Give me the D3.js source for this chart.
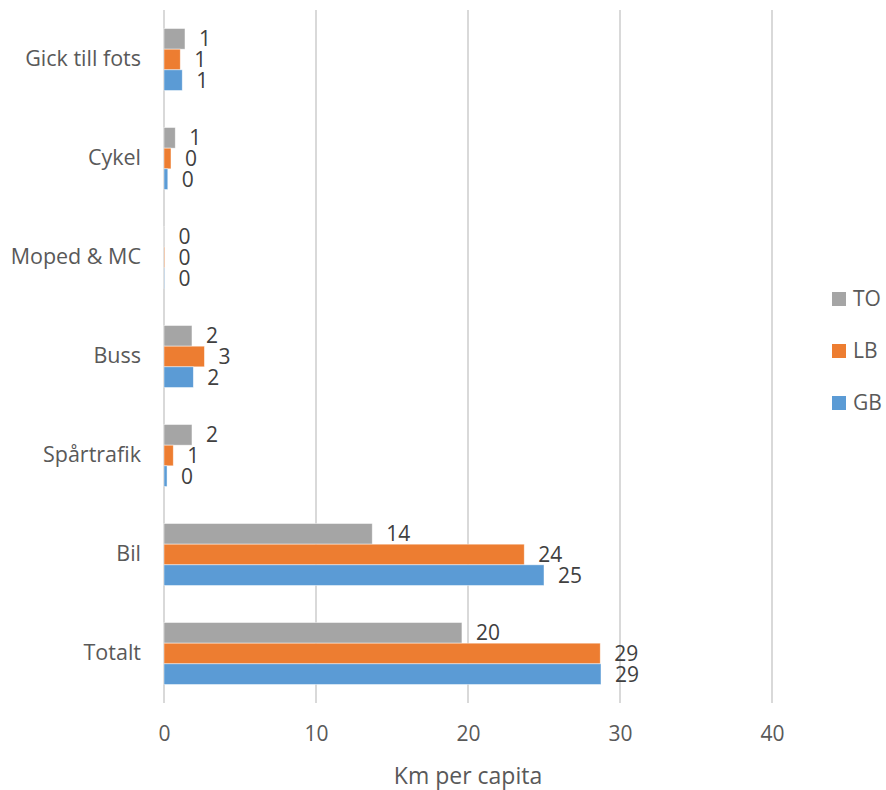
<!DOCTYPE html>
<html>
<head>
<meta charset="utf-8">
<script src="https://cdn.jsdelivr.net/npm/d3@7"></script>
<style>
  html, body { margin: 0; padding: 0; background: #fff; }
  svg { display: block; font-family: "Open Sans", sans-serif; }
</style>
</head>
<body>
<svg id="chart" width="886" height="790"></svg>
<script>
// Travel distance per person and day, by mode
const categories = ["Gick till fots", "Cykel", "Moped & MC", "Buss", "Spårtrafik", "Bil", "Totalt"];
const seriesNames = ["TO", "LB", "GB"];
const valuesTO = [1.38, 0.74, 0.03, 1.84, 1.84, 13.7, 19.6];
const valuesLB = [1.07, 0.46, 0.04, 2.66, 0.61, 23.7, 28.7];
const valuesGB = [1.2, 0.25, 0.03, 1.93, 0.2, 25.0, 28.75];
const xTicks = [0, 10, 20, 30, 40];
const xTitle = "Km per capita";

const colors = { TO: "#A5A5A5", LB: "#ED7D31", GB: "#5B9BD5" };
const seriesValues = { TO: valuesTO, LB: valuesLB, GB: valuesGB };

const svg = d3.select("#chart");
const plot = { left: 164, right: 772, top: 10, bottom: 703 };

const x = d3.scaleLinear().domain([0, 40]).range([plot.left, plot.right]);
const y = d3.scaleBand().domain(categories).range([plot.top, plot.bottom])
  .paddingInner(0.374).paddingOuter(0.187);
const ySub = d3.scaleBand().domain(seriesNames).range([0, y.bandwidth()]);

// vertical gridlines
svg.append("g").selectAll("line").data(xTicks).join("line")
  .attr("x1", d => x(d)).attr("x2", d => x(d))
  .attr("y1", plot.top).attr("y2", plot.bottom)
  .attr("stroke", "#D9D9D9").attr("stroke-width", 2);

// bars
const rows = [];
categories.forEach((c, i) => seriesNames.forEach(s => rows.push({ c, s, v: seriesValues[s][i] })));

svg.append("g").selectAll("rect").data(rows).join("rect")
  .attr("x", x(0))
  .attr("y", d => y(d.c) + ySub(d.s))
  .attr("width", d => Math.max(0, x(d.v) - x(0)))
  .attr("height", ySub.bandwidth())
  .attr("fill", d => colors[d.s])
  .attr("stroke", "#fff").attr("stroke-opacity", 0.6).attr("stroke-width", 0.75);

// value labels
svg.append("g").selectAll("text").data(rows).join("text")
  .attr("x", d => x(d.v) + 14)
  .attr("y", d => y(d.c) + ySub(d.s) + ySub.bandwidth() / 2)
  .attr("dy", "0.35em")
  .attr("font-size", 21)
  .attr("fill", "#404040")
  .text(d => d3.format(".0f")(d.v));

// category labels
const yAxis = d3.axisLeft(y).tickSize(0).tickPadding(23);
const gy = svg.append("g").attr("transform", `translate(${plot.left},0)`).call(yAxis);
gy.select(".domain").remove();
gy.selectAll("text").attr("font-size", 21.5).attr("fill", "#595959")
  .attr("font-family", "Open Sans, sans-serif");

// x axis tick labels
const xAxis = d3.axisBottom(x).tickValues(xTicks).tickSize(0).tickPadding(23).tickFormat(d3.format("d"));
const gx = svg.append("g").attr("transform", `translate(0,${plot.bottom})`).call(xAxis);
gx.select(".domain").remove();
gx.selectAll("text").attr("font-size", 21).attr("fill", "#595959")
  .attr("font-family", "Open Sans, sans-serif");

// axis title
svg.append("text")
  .attr("x", (plot.left + plot.right) / 2).attr("y", 776)
  .attr("dy", "0.35em").attr("text-anchor", "middle")
  .attr("font-size", 23).attr("fill", "#595959")
  .text(xTitle);

// legend
const legend = svg.append("g").selectAll("g").data(seriesNames).join("g")
  .attr("transform", (d, i) => `translate(832,${299 + i * 52})`);
legend.append("rect").attr("x", 0).attr("y", -7).attr("width", 14).attr("height", 14)
  .attr("fill", d => colors[d]);
legend.append("text").attr("x", 21).attr("dy", "0.35em")
  .attr("font-size", 21).attr("fill", "#595959").text(d => d);
</script>
</body>
</html>
